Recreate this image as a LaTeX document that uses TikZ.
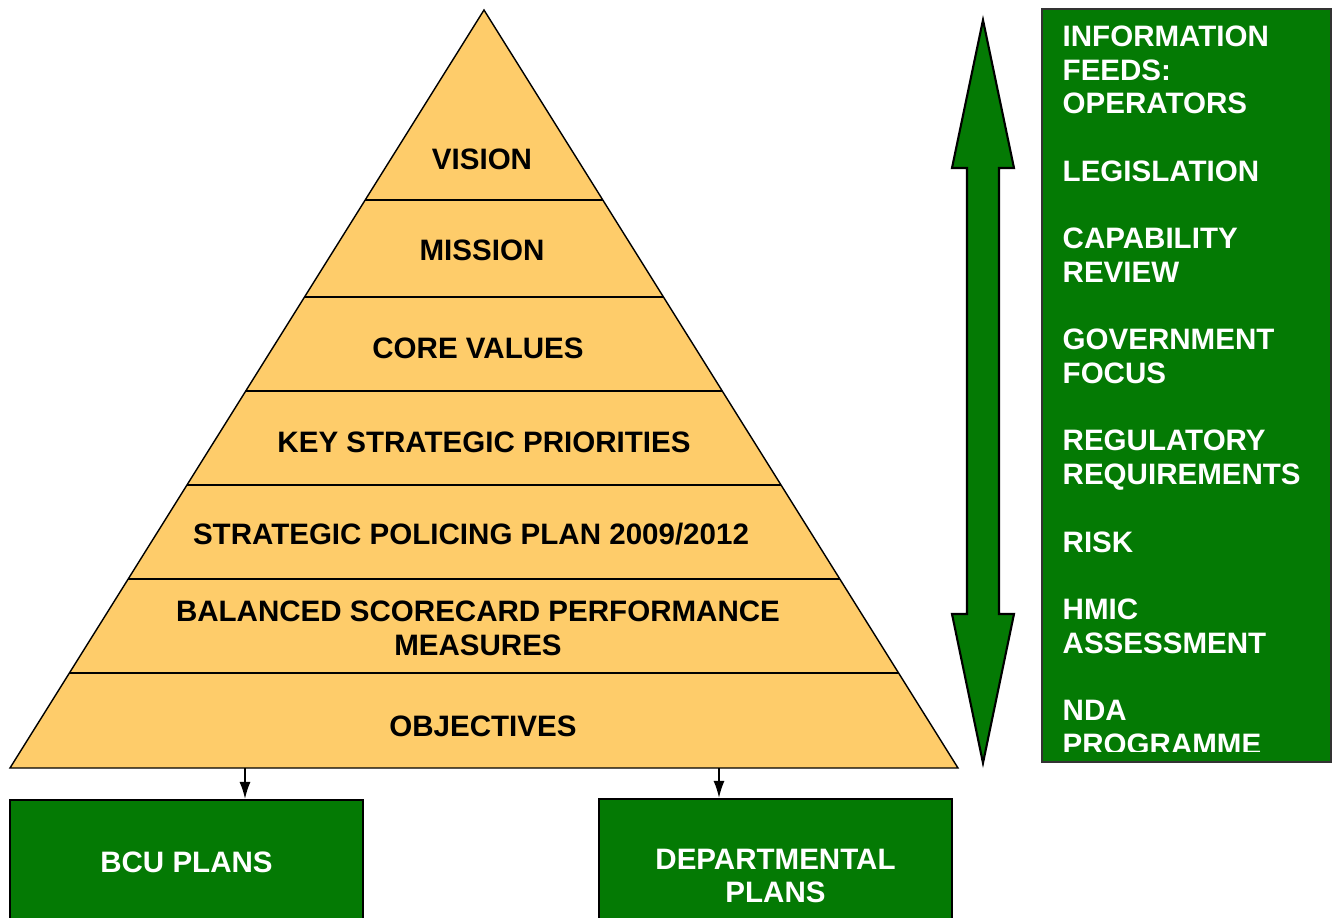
\documentclass[tikz,border=0pt]{standalone}
\usepackage{fontspec}
\setmainfont{Liberation Sans}
\usepackage{tikz}
\usetikzlibrary{calc,arrows.meta}
\definecolor{plangreen}{RGB}{4,122,4}
\definecolor{layerfill}{RGB}{254,204,106}

\begin{document}
\begin{tikzpicture}[
x=0.01cm, y=-0.01cm,
every node/.style={font=\fontsize{8.4}{9.6}\selectfont\bfseries},
layer/.style={align=center, text=black},
sep/.style={line width=0.6pt},
plan/.style={
	draw=black, line width=0.6pt, fill=plangreen,
	minimum width=3.53cm, text=white, align=center
},
feed/.style={anchor=west, text=white, inner sep=0pt,
	text height=6pt, text depth=0pt}
]
\useasboundingbox (0,0) rectangle (1335,918);
% pyramid
\coordinate (apex) at (484,10);
\coordinate (bl) at (10,768);
\coordinate (br) at (958,768);
\draw[fill=layerfill, line width=0.4pt] (apex) -- (br) -- (bl) -- cycle;
\foreach \y in {200,297,391,485,579,673}
{
	\pgfmathsetmacro\half{0.62533*(\y-10)}
	\draw[sep] (484-\half,\y) -- (484+\half,\y);
}
\node[layer] (vision) at (482,159) {VISION};
\node[layer] (mission) at (482,250) {MISSION};
\node[layer] (values) at (478,348) {CORE VALUES};
\node[layer] (priorities) at (484,442) {KEY STRATEGIC PRIORITIES};
\node[layer] (spp) at (471,534) {STRATEGIC POLICING PLAN 2009/2012};
\node[layer] (scorecard) at (478,628) {BALANCED SCORECARD PERFORMANCE\\MEASURES};
\node[layer] (objectives) at (483,726) {OBJECTIVES};
% plans below
\node[plan, minimum height=1.24cm] (bcu) at (186.5,862) {BCU PLANS};
\node[plan, minimum height=1.54cm] (dept) at (775.5,876) {DEPARTMENTAL\\PLANS};
\coordinate (b1) at (245,768);
\coordinate (b2) at (719,768);
\draw[-{Latex[length=1.7mm,width=1.1mm]}] (b1) -- (b1 |- bcu.north);
\draw[-{Latex[length=1.7mm,width=1.1mm]}] (b2) -- (b2 |- dept.north);
% two-way arrow
\draw[fill=plangreen, line width=0.6pt] (983,20) -- (1014,168) -- (999,168)
	-- (999,614) -- (1014,614) -- (983,763) -- (952,614) -- (967,614)
	-- (967,168) -- (952,168) -- cycle;
% information feeds
\node[draw=black!80, line width=0.6pt, fill=plangreen,
	minimum width=2.89cm, minimum height=7.53cm] (feeds) at (1186.5,385.5) {};
\begin{scope}
\clip (1044,11) rectangle (1329,751);
\foreach \t [count=\i from 0] in {INFORMATION, FEEDS:, OPERATORS, , LEGISLATION, ,
	CAPABILITY, REVIEW, , GOVERNMENT, FOCUS, , REGULATORY, REQUIREMENTS, ,
	RISK, , HMIC, ASSESSMENT, , NDA, PROGRAMME}
{
	\node[feed] (feed\i) at (1062,36+\i*33.7) {\t};
}
\end{scope}
\end{tikzpicture}
\end{document}
